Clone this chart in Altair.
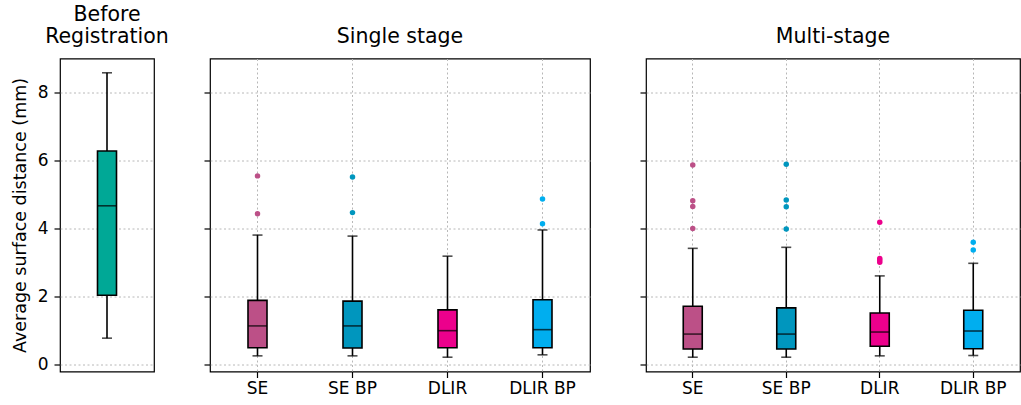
import altair as alt
import pandas as pd

FONT = "DejaVu Sans"

# ---------------- data ----------------
methods = ["SE", "SE BP", "DLIR", "DLIR BP"]
method_colors = ["#bc5087", "#0096be", "#ec008c", "#00aeef"]

before_cats = ["Before"]
before_color = ["#00a896"]
before_low = [0.77]
before_q1 = [2.03]
before_med = [4.66]
before_q3 = [6.27]
before_high = [8.57]

single_low = [0.25, 0.25, 0.21, 0.28]
single_q1 = [0.49, 0.48, 0.49, 0.49]
single_med = [1.13, 1.13, 0.99, 1.02]
single_q3 = [1.88, 1.86, 1.60, 1.90]
single_high = [3.80, 3.77, 3.18, 3.95]
single_out_method = ["SE", "SE", "SE BP", "SE BP", "DLIR BP", "DLIR BP"]
single_out_value = [5.54, 4.43, 5.51, 4.46, 4.86, 4.13]

multi_low = [0.21, 0.21, 0.25, 0.26]
multi_q1 = [0.45, 0.45, 0.53, 0.46]
multi_med = [0.89, 0.89, 0.95, 0.98]
multi_q3 = [1.71, 1.66, 1.51, 1.59]
multi_high = [3.41, 3.44, 2.60, 2.97]
multi_out_method = ["SE", "SE", "SE", "SE",
                    "SE BP", "SE BP", "SE BP", "SE BP",
                    "DLIR", "DLIR", "DLIR", "DLIR",
                    "DLIR BP", "DLIR BP"]
multi_out_value = [5.86, 4.81, 4.64, 3.99,
                   5.88, 4.83, 4.63, 3.98,
                   4.18, 3.11, 3.06, 3.00,
                   3.59, 3.36]

y_domain = [-0.21, 8.99]
y_ticks = [0, 2, 4, 6, 8]
y_title = "Average surface distance (mm)"


def panel(cats, cols, low, q1, med, q3, high, out_cat, out_val,
          width, title, first):
    df = pd.DataFrame({"method": cats, "low": low, "q1": q1, "med": med,
                       "q3": q3, "high": high})
    odf = pd.DataFrame({"method": out_cat, "value": out_val})

    if first:
        xaxis = None
        yaxis = alt.Axis(values=y_ticks, title=y_title, grid=True,
                         titlePadding=8, labelPadding=6)
    else:
        xaxis = alt.Axis(title=None, labelAngle=0, grid=True,
                         bandPosition=0.5, ticks=True, labelPadding=3)
        yaxis = alt.Axis(values=y_ticks, title=None, labels=False, grid=True)

    x = alt.X("method:N", sort=cats,
              scale=alt.Scale(domain=cats, paddingInner=0, paddingOuter=0),
              axis=xaxis)
    ysc = alt.Scale(domain=y_domain, nice=False, zero=False)
    color = alt.Color("method:N", scale=alt.Scale(domain=cats, range=cols),
                      legend=None)

    base = alt.Chart(df)
    whisk = base.mark_rule(color="black", strokeWidth=1.6).encode(
        x=x, y=alt.Y("low:Q", scale=ysc, axis=yaxis), y2="high:Q")
    box = base.mark_bar(size=19, stroke="black", strokeWidth=1.6).encode(
        x=x, y=alt.Y("q1:Q", scale=ysc, axis=yaxis), y2="q3:Q", color=color)
    med_t = base.mark_tick(color="black", size=19, thickness=1.6).encode(
        x=x, y=alt.Y("med:Q", scale=ysc, axis=yaxis))
    cap_lo = base.mark_tick(color="black", size=10, thickness=1.6).encode(
        x=x, y=alt.Y("low:Q", scale=ysc, axis=yaxis))
    cap_hi = base.mark_tick(color="black", size=10, thickness=1.6).encode(
        x=x, y=alt.Y("high:Q", scale=ysc, axis=yaxis))
    layers = [whisk, box, med_t, cap_lo, cap_hi]
    if len(out_val):
        pts = alt.Chart(odf).mark_circle(size=30, opacity=1).encode(
            x=x, y=alt.Y("value:Q", scale=ysc, axis=yaxis), color=color)
        layers.append(pts)
    return alt.layer(*layers).properties(width=width, height=313, title=title)


p1 = panel(before_cats, before_color, before_low, before_q1, before_med,
           before_q3, before_high, [], [], 94,
           ["Before", "Registration"], True)
p2 = panel(methods, method_colors, single_low, single_q1, single_med,
           single_q3, single_high, single_out_method, single_out_value,
           380, "Single stage", False)
p3 = panel(methods, method_colors, multi_low, multi_q1, multi_med,
           multi_q3, multi_high, multi_out_method, multi_out_value,
           374, "Multi-stage", False)

chart = alt.hconcat(p1, p2, p3, spacing=56, bounds="flush").resolve_scale(
    color="independent"
).properties(
    padding={"left": 10, "top": 3.5, "right": 0, "bottom": 0}
).configure_view(
    stroke="black", strokeWidth=1.2
).configure_axis(
    labelFont=FONT, labelFontSize=17, labelColor="black",
    tickColor="black", tickSize=6, tickWidth=1.2, domain=False,
    gridColor="#b8b8b8", gridDash=[2, 2.5], gridWidth=1,
    titleFont=FONT, titleFontSize=17.5, titleFontWeight="normal",
    titleColor="black"
).configure_title(
    font=FONT, fontSize=20.5, fontWeight="normal", color="black",
    anchor="middle", offset=11, lineHeight=22
)

chart.save("out.html", embed_options={"renderer": "svg", "actions": False})
